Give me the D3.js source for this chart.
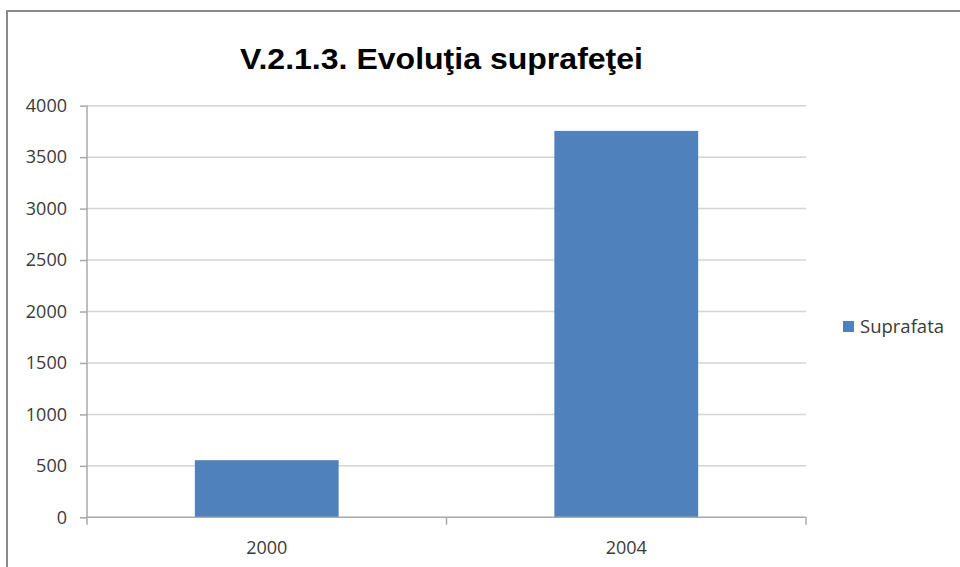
<!DOCTYPE html>
<html>
<head>
	<meta charset="utf-8">
	<title>V.2.1.3. Evolutia suprafetei</title>
	<script type="text/javascript" src="https://d3js.org/d3.v7.min.js"></script>
	<style>
		body { margin: 0; background: #fff; }
		.tick text { font-family: "Open Sans", "Noto Sans", sans-serif; fill: #3a3a3a; }
	</style>
</head>
<body>
	<svg width="960" height="567"></svg>
	<script type="text/javascript">

	// data
	var years = ["2000", "2004"];
	var suprafata = [555, 3755];
	var yTicks = [0, 500, 1000, 1500, 2000, 2500, 3000, 3500, 4000];
	var seriesName = "Suprafata";
	var title = "V.2.1.3. Evoluţia suprafeţei";

	var svg = d3.select("svg"),
		margin = {top: 105.7, left: 87, right: 154, bottom: 49.7},
		width = +svg.attr("width") - margin.left - margin.right,
		height = +svg.attr("height") - margin.top - margin.bottom;

	// chart frame
	svg.append("rect")
		.attr("x", 7).attr("y", 11)
		.attr("width", 970).attr("height", 600)
		.attr("fill", "none")
		.attr("stroke", "#8a8a8a")
		.attr("stroke-width", 2);

	svg.append("text")
		.attr("x", 441.5).attr("y", 69)
		.attr("text-anchor", "middle")
		.attr("textLength", 403)
		.attr("lengthAdjust", "spacingAndGlyphs")
		.style("font-family", "'Liberation Sans', Arial, sans-serif")
		.style("font-weight", "bold")
		.style("font-size", "29px")
		.text(title);

	var g = svg.append("g")
		.attr("transform", "translate(" + margin.left + "," + margin.top + ")");

	var x = d3.scaleBand().domain(years).range([0, width]).paddingInner(0.6).paddingOuter(0.3);
	var xCat = d3.scaleBand().domain(years).range([0, width]);
	var y = d3.scaleLinear().domain([0, 4000]).range([height, 0]);

	// gridlines
	g.append("g")
		.selectAll("line")
		.data(yTicks.filter(function(d) { return d > 0; }))
		.enter().append("line")
		.attr("x1", 0).attr("x2", width)
		.attr("y1", function(d) { return y(d); })
		.attr("y2", function(d) { return y(d); })
		.attr("stroke", "#d4d4d4")
		.attr("stroke-width", 1.5);

	// y axis
	var yAxis = g.append("g")
		.call(d3.axisLeft(y).tickValues(yTicks).tickFormat(d3.format("d")).tickSize(7).tickPadding(13));
	yAxis.select(".domain").remove();
	yAxis.selectAll(".tick line").attr("stroke", "#a8a8a8").attr("stroke-width", 1.5);
	yAxis.selectAll(".tick text").style("font-size", "18px");
	g.append("line")
		.attr("x1", 0).attr("x2", 0)
		.attr("y1", 0).attr("y2", height + 7.5)
		.attr("stroke", "#a8a8a8").attr("stroke-width", 1.5);

	// bars
	g.selectAll(".bar")
		.data(years)
		.enter().append("rect")
		.attr("class", "bar")
		.attr("x", function(d) { return x(d); })
		.attr("width", x.bandwidth())
		.attr("y", function(d, i) { return y(suprafata[i]); })
		.attr("height", function(d, i) { return height - y(suprafata[i]); })
		.attr("fill", "#4f81bd");

	// x axis: category boundary ticks
	g.append("line")
		.attr("x1", 0).attr("x2", width)
		.attr("y1", height).attr("y2", height)
		.attr("stroke", "#a8a8a8").attr("stroke-width", 1.5);
	g.selectAll(".xtick")
		.data(years.slice(1).map(function(d) { return xCat(d); }).concat([width]))
		.enter().append("line")
		.attr("class", "xtick")
		.attr("x1", function(d) { return d; }).attr("x2", function(d) { return d; })
		.attr("y1", height).attr("y2", height + 7.5)
		.attr("stroke", "#a8a8a8").attr("stroke-width", 1.5);
	g.selectAll(".xlabel")
		.data(years)
		.enter().append("text")
		.attr("class", "xlabel")
		.attr("x", function(d) { return xCat(d) + xCat.bandwidth() / 2; })
		.attr("y", height + 37)
		.attr("text-anchor", "middle")
		.style("font-family", "'Open Sans', 'Noto Sans', sans-serif")
		.style("font-size", "18px")
		.style("fill", "#3a3a3a")
		.text(function(d) { return d; });

	// legend
	var legend = svg.append("g").attr("transform", "translate(843,321)");
	legend.append("rect").attr("width", 11).attr("height", 11).attr("fill", "#4f81bd");
	legend.append("text")
		.attr("x", 17).attr("y", 12)
		.style("font-family", "'Open Sans', 'Noto Sans', sans-serif")
		.style("font-size", "18.5px")
		.style("fill", "#3a3a3a")
		.text(seriesName);

	</script>
</body>
</html>
